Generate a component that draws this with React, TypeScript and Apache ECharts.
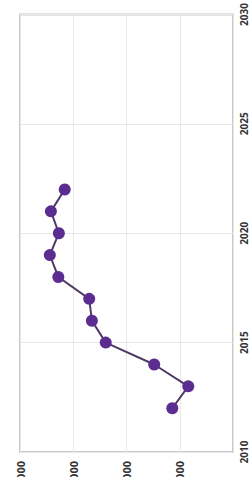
import React, { useEffect, useRef } from "react";
import * as echarts from "echarts";

const years = [2012, 2013, 2014, 2015, 2016, 2017, 2018, 2019, 2020, 2021, 2022];
const values = [1140, 840, 1480, 2390, 2650, 2700, 3280, 3440, 3270, 3420, 3160];
const valueTicks = [0, 1000, 2000, 3000, 4000];
const yearTicks = [2010, 2015, 2020, 2025, 2030];

export default function App() {
  const ref = useRef<HTMLDivElement>(null);
  useEffect(() => {
    if (!ref.current) return;
    const chart = echarts.init(ref.current, undefined, { renderer: "svg" });
    chart.setOption({
      animation: false,
      backgroundColor: "#ffffff",
      grid: {
        left: 20,
        right: 18,
        top: 10,
        bottom: 48,
        show: true,
        borderColor: "#c8c8c8",
        borderWidth: 2,
        backgroundColor: "transparent",
      },
      xAxis: {
        type: "value",
        inverse: true,
        min: valueTicks[0],
        max: valueTicks[valueTicks.length - 1],
        interval: 1000,
        axisLine: { show: false },
        axisTick: { show: false },
        splitLine: { show: true, lineStyle: { color: "#e8e8e8", width: 1 } },
        axisLabel: {
          rotate: 90,
          margin: 9,
          showMinLabel: false,
          color: "#333",
          fontSize: 11,
          fontFamily: "Noto Sans",
          fontWeight: "bold",
          formatter: (v: number) => String(v),
        },
      },
      yAxis: {
        type: "value",
        position: "right",
        min: yearTicks[0],
        max: yearTicks[yearTicks.length - 1],
        interval: 5,
        axisLine: { show: false },
        axisTick: { show: false },
        splitLine: { show: true, lineStyle: { color: "#e8e8e8", width: 1 } },
        axisLabel: {
          rotate: 90,
          margin: 6,
          color: "#333",
          fontSize: 10,
          fontFamily: "Noto Sans",
          fontWeight: "bold",
          formatter: (v: number) => String(v),
        },
      },
      series: [
        {
          type: "line",
          data: years.map((y, i) => [values[i], y]),
          symbol: "circle",
          symbolSize: 12,
          lineStyle: { color: "#4f3a66", width: 2 },
          itemStyle: { color: "#5b2d90" },
        },
      ],
    });
    return () => chart.dispose();
  }, []);
  return (
    <div
      style={{
        position: "fixed",
        left: 0,
        top: 0,
        width: 251,
        height: 477,
        overflow: "hidden",
        background: "#fff",
      }}
    >
      <div ref={ref} style={{ width: 251, height: 500 }} />
    </div>
  );
}
